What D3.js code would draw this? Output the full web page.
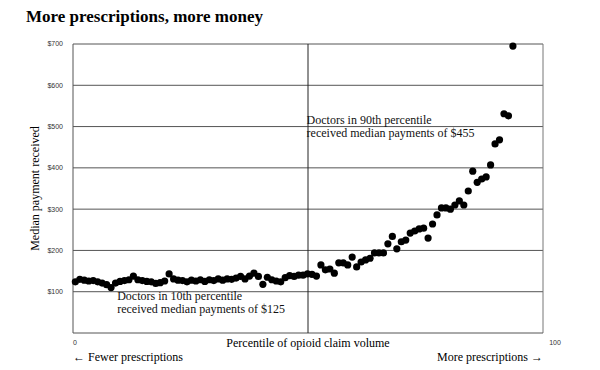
<!DOCTYPE html>
<html>
<head>
<meta charset="utf-8">
<script src="https://cdn.jsdelivr.net/npm/d3@7"></script>
<style>
  body { margin: 0; background: #fff; }
  svg { display: block; }
</style>
</head>
<body>
<div id="chart"></div>
<script>
// Median payment by percentile of opioid claim volume
const payments = [
    124, 130, 128, 126, 127, 124, 121, 117, 110, 121,
    125, 127, 129, 138, 129, 127, 125, 124, 120, 122,
    126, 143, 131, 128, 127, 124, 128, 126, 129, 125,
    129, 127, 131, 128, 131, 130, 133, 137, 131, 138,
    145, 137, 118, 135, 129, 126, 124, 134, 139, 137,
    140, 140, 143, 142, 138, 165, 153, 155, 145, 170,
    170, 165, 184, 160, 172, 177, 181, 194, 194, 194,
    216, 234, 204, 221, 225, 242, 247, 252, 254, 230,
    264, 286, 303, 303, 300, 310, 320, 310, 344, 392,
    365, 373, 378, 407, 458, 468, 531, 526, 695
];
// first and last dot sit at these percentiles on the axis
const dotSpan = [0.5, 93.6];
const yTicks = [100, 200, 300, 400, 500, 600, 700];
const xTickLabels = ['0', '100'];
const notes = [
    { pct: 9.4, value: 80, lines: ['Doctors in 10th percentile', 'received median payments of $125'] },
    { pct: 49.7, value: 506, lines: ['Doctors in 90th percentile', 'received median payments of $455'] }
];

const totalWidth = 600;
const totalHeight = 370;
const margin = { top: 44, right: 57, bottom: 37, left: 73 };
const width = totalWidth - margin.left - margin.right;
const height = totalHeight - margin.top - margin.bottom;

const serif = '"Liberation Serif", "Times New Roman", serif';
const sans = '"Liberation Sans", Arial, sans-serif';

const svgRoot = d3.select('#chart')
    .append('svg')
    .attr('width', totalWidth)
    .attr('height', totalHeight);

svgRoot.append('text')
    .attr('x', 26)
    .attr('y', 22)
    .style('font-family', serif)
    .style('font-weight', 'bold')
    .style('font-size', '17px')
    .style('fill', '#000')
    .text('More prescriptions, more money');

const svg = svgRoot.append('g')
    .attr('transform', `translate(${margin.left},${margin.top})`);

const x = d3.scaleLinear().domain([0, 100]).range([0, width]);
const y = d3.scaleLinear().domain([0, 700]).range([height, 0]);
const dotX = d3.scalePoint()
    .domain(d3.range(payments.length))
    .range([x(dotSpan[0]), x(dotSpan[1])]);

// horizontal grid lines
svg.append('g')
    .selectAll('line')
    .data(yTicks)
    .enter()
    .append('line')
    .attr('x1', 0)
    .attr('x2', width)
    .attr('y1', d => y(d))
    .attr('y2', d => y(d))
    .style('stroke', '#555')
    .style('stroke-width', 1);

// frame: left, right, bottom
svg.append('line')
    .attr('x1', 0).attr('x2', 0)
    .attr('y1', y(700)).attr('y2', height)
    .style('stroke', '#555');
svg.append('line')
    .attr('x1', width).attr('x2', width)
    .attr('y1', y(700)).attr('y2', height)
    .style('stroke', '#777');
svg.append('line')
    .attr('x1', 0).attr('x2', width)
    .attr('y1', height).attr('y2', height)
    .style('stroke', '#555');

// midpoint marker
svg.append('line')
    .attr('x1', x(50)).attr('x2', x(50))
    .attr('y1', y(700)).attr('y2', height)
    .style('stroke', '#222');

// y tick labels
svg.append('g')
    .selectAll('text')
    .data(yTicks)
    .enter()
    .append('text')
    .attr('x', -10)
    .attr('y', d => y(d))
    .attr('dy', '0.35em')
    .attr('text-anchor', 'end')
    .style('font-family', sans)
    .style('font-size', '7px')
    .style('fill', '#333')
    .text(d => '$' + d);

// x tick labels at the ends
svg.append('g')
    .selectAll('text')
    .data(xTickLabels)
    .enter()
    .append('text')
    .attr('x', (d, i) => i === 0 ? 2 : width + 12)
    .attr('y', height + 12)
    .attr('text-anchor', 'middle')
    .style('font-family', sans)
    .style('font-size', '7px')
    .style('fill', '#333')
    .text(d => d);

// axis titles
svg.append('text')
    .attr('transform', 'rotate(-90)')
    .attr('x', -height / 2)
    .attr('y', -34)
    .attr('text-anchor', 'middle')
    .style('font-family', serif)
    .style('font-size', '12px')
    .style('fill', '#000')
    .text('Median payment received');

svg.append('text')
    .attr('x', x(50))
    .attr('y', height + 14)
    .attr('text-anchor', 'middle')
    .style('font-family', serif)
    .style('font-size', '12px')
    .style('fill', '#000')
    .text('Percentile of opioid claim volume');

svg.append('text')
    .attr('x', 0)
    .attr('y', height + 28)
    .style('font-family', serif)
    .style('font-size', '12px')
    .style('fill', '#000')
    .text('\u2190 Fewer prescriptions');

svg.append('text')
    .attr('x', width)
    .attr('y', height + 28)
    .attr('text-anchor', 'end')
    .style('font-family', serif)
    .style('font-size', '12px')
    .style('fill', '#000')
    .text('More prescriptions \u2192');

// dots
svg.append('g')
    .selectAll('circle')
    .data(payments)
    .enter()
    .append('circle')
    .attr('cx', (d, i) => dotX(i))
    .attr('cy', d => y(d))
    .attr('r', 3.6)
    .style('fill', '#000');

// annotations (first line baseline sits at the note's value)
const noteGroups = svg.selectAll('.note')
    .data(notes)
    .enter()
    .append('text')
    .attr('class', 'note')
    .attr('x', d => x(d.pct))
    .attr('y', d => y(d.value))
    .style('font-family', serif)
    .style('font-size', '12px')
    .style('fill', '#111');

noteGroups.selectAll('tspan')
    .data(d => d.lines)
    .enter()
    .append('tspan')
    .attr('x', function() { return d3.select(this.parentNode).attr('x'); })
    .attr('dy', (d, i) => i === 0 ? 0 : '1.1em')
    .text(d => d);
</script>
</body>
</html>
